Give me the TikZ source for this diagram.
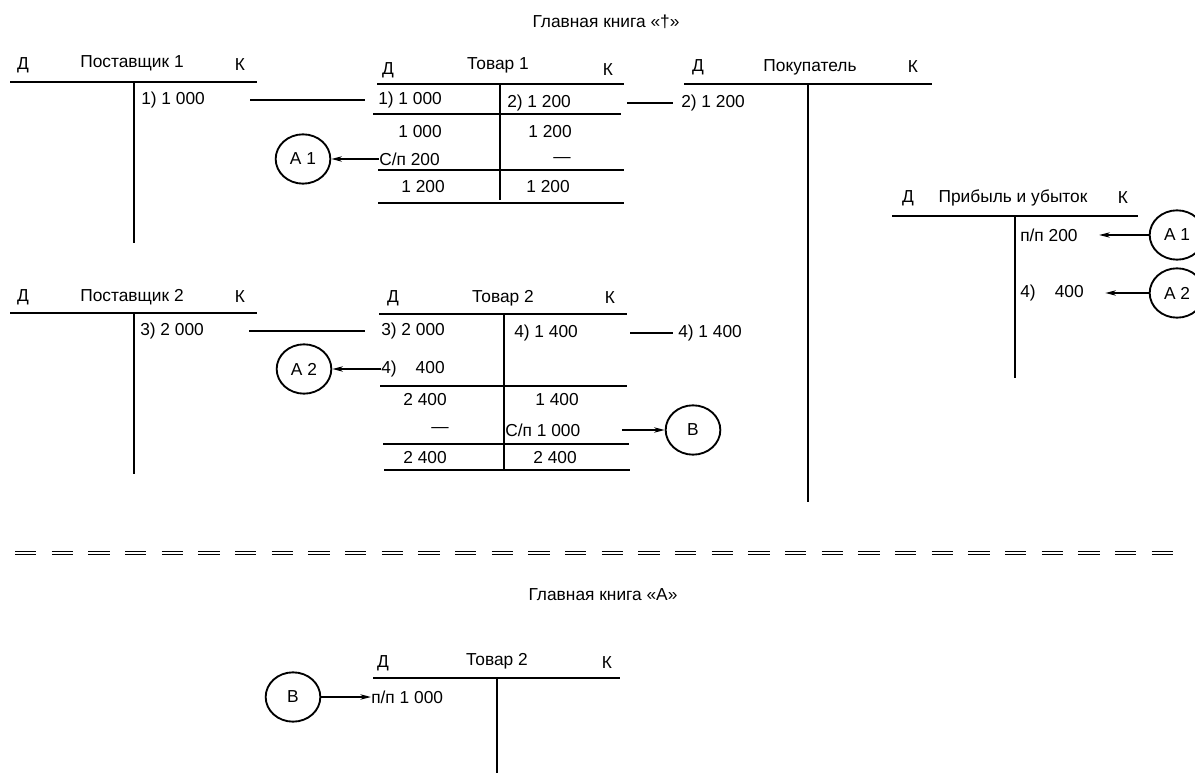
\documentclass[tikz,border=0pt]{standalone}
\usepackage{fontspec}
\setmainfont{Liberation Sans}
\usetikzlibrary{arrows.meta,shapes.geometric}
\tikzset{
	konto/.style={line width=1.6pt},
	svaz/.style={line width=1.5pt},
	strel/.style={line width=1.1pt,-{Stealth[length=8pt,width=4pt,inset=2.5pt]}},
	ssyl/.style={draw,ellipse,line width=1.4pt,minimum width=41pt,minimum height=37pt,inner sep=0pt},
	zap/.style={inner sep=0pt,anchor=west},
	sum/.style={inner sep=0pt},
}
\begin{document}
\begin{tikzpicture}[x=0.75pt,y=-0.75pt,font=\fontsize{13}{15}\selectfont]
			\clip (0,0) rectangle (1195,773);
			\node[sum] (kn1) at (606,22) {Главная книга «†»};
			% Поставщик 1
			\node[sum] (p1d) at (23,65) {Д};
			\node[sum] (p1n) at (132,63) {Поставщик 1};
			\node[sum] (p1k) at (240,65) {К};
			\draw[konto] (10,82)--(257,82) (134,82)--(134,243);
			\node[zap] (p1a) at (141,100) {1) 1 000};
			% Товар 1
			\node[sum] (t1d) at (388,70) {Д};
			\node[sum] (t1n) at (498,65) {Товар 1};
			\node[sum] (t1k) at (608,70) {К};
			\draw[konto] (377,84)--(624,84) (500,84)--(500,200);
			\draw[konto] (373,114)--(621,114) (378,170)--(624,170) (378,203)--(624,203);
			\node[zap] (t1a) at (378,100) {1) 1 000};
			\node[zap] (t1b) at (507,103) {2) 1 200};
			\node[sum] (t1s1) at (420,132) {1 000};
			\node[sum] (t1s2) at (550,132) {1 200};
			\node[zap] (t1c) at (379,159) {С/п 200};
			\node[sum] (t1e) at (562,160) {—};
			\node[sum] (t1o1) at (423,187) {1 200};
			\node[sum] (t1o2) at (548,187) {1 200};
			\node[ssyl] (a1) at (303,159) {А 1};
			% Покупатель
			\node[sum] (pkd) at (698,67) {Д};
			\node[sum] (pkn) at (810,67) {Покупатель};
			\node[sum] (pkk) at (913,67) {К};
			\draw[konto] (684,84)--(932,84) (808,84)--(808,502);
			\node[zap] (pk1) at (681,103) {2) 1 200};
			\node[zap] (pk2) at (678,333) {4) 1 400};
			% Прибыль и убыток
			\node[sum] (pud) at (908,198) {Д};
			\node[sum] (pun) at (1013,198) {Прибыль и убыток};
			\node[sum] (puk) at (1123,198) {К};
			\draw[konto] (892,216)--(1138,216) (1015,216)--(1015,378);
			\node[zap] (pu1) at (1020,235) {п/п 200};
			\node[zap] (pu2) at (1020,293) {4)\hspace{1.1em}400};
			\node[ssyl] (a1r) at (1177,235) {А 1};
			\node[ssyl] (a2r) at (1177,293) {А 2};
			% Поставщик 2
			\node[sum] (p2d) at (23,297) {Д};
			\node[sum] (p2n) at (132,297) {Поставщик 2};
			\node[sum] (p2k) at (240,297) {К};
			\draw[konto] (10,313)--(257,313) (134,313)--(134,474);
			\node[zap] (p2a) at (140,331) {3) 2 000};
			% Товар 2
			\node[sum] (t2d) at (393,298) {Д};
			\node[sum] (t2n) at (503,298) {Товар 2};
			\node[sum] (t2k) at (610,298) {К};
			\draw[konto] (379,314)--(627,314) (504,314)--(504,471);
			\draw[konto] (380,386)--(627,386) (383,444)--(629,444) (384,470)--(630,470);
			\node[zap] (t2a) at (381,331) {3) 2 000};
			\node[zap] (t2b) at (514,333) {4) 1 400};
			\node[zap] (t2c) at (381,369) {4)\hspace{1.1em}400};
			\node[sum] (t2s1) at (425,400) {2 400};
			\node[sum] (t2s2) at (557,400) {1 400};
			\node[sum] (t2e) at (440,430) {—};
			\node[zap] (t2f) at (505,430) {С/п 1 000};
			\node[sum] (t2o1) at (425,458) {2 400};
			\node[sum] (t2o2) at (555,458) {2 400};
			\node[ssyl] (a2) at (304,369) {А 2};
			\node[ssyl] (v1) at (693,430) {В};
			% проводки
			\draw[svaz,shorten <=34pt,shorten >=10pt] (p1a.east)--(t1a.west);
			\draw[svaz,shorten <=42pt,shorten >=6pt] (t1b.east)--(pk1.west);
			\draw[svaz,shorten <=34pt,shorten >=12pt] (p2a.east)--(t2a.west);
			\draw[svaz,shorten <=39pt,shorten >=4pt] (t2b.east)--(pk2.west);
			\draw[strel] (t1c.west)--(a1);
			\draw[strel] (t2c.west)--(a2);
			\draw[strel,shorten <=31pt] (t2f.east)--(v1);
			\draw[strel,shorten >=16pt] (a1r)--(pu1.east);
			\draw[strel,shorten >=16pt] (a2r)--(pu2.east);
			% граница книг
			\draw[line width=1.2pt,double,double distance=1.2pt,dash pattern=on 16pt off 11.5pt] (15,553)--(1174,553);
			\node[sum] (kn2) at (603,595) {Главная книга «А»};
			% Товар 2 в книге А
			\node[sum] (b2d) at (383,663) {Д};
			\node[sum] (b2n) at (497,661) {Товар 2};
			\node[sum] (b2k) at (607,663) {К};
			\draw[konto] (373,678)--(620,678) (497,678)--(497,773);
			\node[zap] (b2a) at (371,697) {п/п 1 000};
			\node[ssyl] (v2) at (293,697) {В};
			\draw[strel] (v2)--(b2a.west);
\end{tikzpicture}
\end{document}
